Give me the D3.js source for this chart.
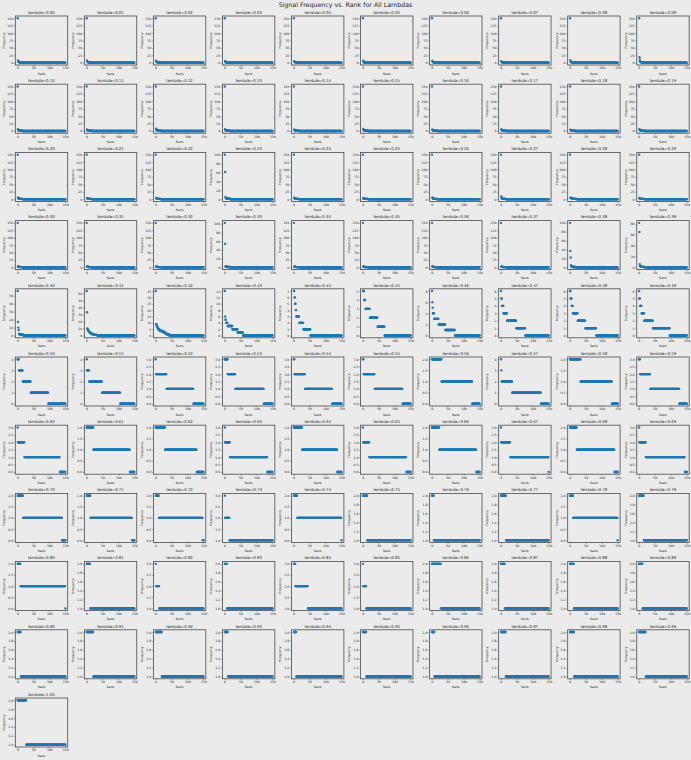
<!DOCTYPE html>
<html><head><meta charset="utf-8">
<script src="https://cdn.jsdelivr.net/npm/d3@7"></script>
<style>
body{margin:0;background:#ebebeb}
text{font-family:"DejaVu Sans",sans-serif}
</style>
</head><body>
<svg id="chart" width="691" height="760"></svg>
<script>
// ---- data ----
const chartTitle = "Signal Frequency vs. Rank for All Lambdas";
const lambdas = ("0.00 0.01 0.02 0.03 0.04 0.05 0.06 0.07 0.08 0.09 " +
  "0.10 0.11 0.12 0.13 0.14 0.15 0.16 0.17 0.18 0.19 " +
  "0.20 0.21 0.22 0.23 0.24 0.25 0.26 0.27 0.28 0.29 " +
  "0.30 0.31 0.32 0.33 0.34 0.35 0.36 0.37 0.38 0.39 " +
  "0.40 0.41 0.42 0.43 0.44 0.45 0.46 0.47 0.48 0.49 " +
  "0.50 0.51 0.52 0.53 0.54 0.55 0.56 0.57 0.58 0.59 " +
  "0.60 0.61 0.62 0.63 0.64 0.65 0.66 0.67 0.68 0.69 " +
  "0.70 0.71 0.72 0.73 0.74 0.75 0.76 0.77 0.78 0.79 " +
  "0.80 0.81 0.82 0.83 0.84 0.85 0.86 0.87 0.88 0.89 " +
  "0.90 0.91 0.92 0.93 0.94 0.95 0.96 0.97 0.98 0.99 1.00").split(" ");

// frequency by rank, written as "value*count" runs (rank 1 .. 150)
const freqRuns = [
  "150,8,5,3*2,2*3,1*10,0*132", "150,8,4,3,2*3,1*10,0*133", "150,7,4*2,2*3,1*10,0*133",
  "150,6,4,2*3,1*10,0*134", "150,5,3*2,2*3,1*10,0*133", "150,7,3,2*3,1*10,0*134",
  "150,6,4,3,2*3,1*10,0*133", "150,5,3,2*3,1*10,0*134", "150,9,4,3,2*3,1*10,0*133",
  "150,19,10,5,3*2,2*3,1*10,0*131",
  "150,6,4,2*3,1*10,0*134", "150,5,3,2*3,1*10,0*134", "150,8,4,2*3,1*10,0*134",
  "150,6,3,2*3,1*10,0*134", "150,5,3,2*3,1*10,0*134", "150,7,4,2*3,1*10,0*134",
  "150,5,3,2*3,1*10,0*134", "150,6,3,2*3,1*10,0*134", "150,4,3,2*3,1*10,0*134",
  "150,6,4,2*3,1*10,0*134",
  "150,6,3,2*3,1*10,0*134", "150,4,2*4,1*10,0*134", "150,4,3,2*3,1*10,0*134",
  "100,61,5,3,2*3,1*10,0*133", "150,5,3,2*3,1*10,0*134", "150,3,2*4,1*10,0*134",
  "150,6,4,2*3,1*10,0*134", "150,9,4,2*3,1*10,0*134", "150,5,4*3,3*3,2*3,1*10,0*129",
  "150,4,3,2*3,1*10,0*134",
  "150,3,2*4,1*10,0*134", "150,3*2,2*3,1*10,0*134", "150,3,2*4,1*10,0*134",
  "102,54,2*4,1*10,0*134", "150,2*5,1*10,0*134", "150,3,2*4,1*10,0*134",
  "150,4,2*4,1*10,0*134", "150,3,2*4,1*10,0*134", "100,37,22,5,3,2*3,1*10,0*132",
  "82,65,6,3,2*3,1*10,0*133",
  "56,17,10,7,2*4,1*10,0*132", "63,33,10,9,8,7,6*2,5*2,4*3,3*4,2*6,1*10,0*117",
  "35,9*2,8,7*2,6*2,5*4,4*7,3*8,2*7,1*8,0*108", "14,6,5*2,4*5,3*15,2*16,1*17,0*93",
  "7*2,6*2,5*2,4*2,3*9,2*13,1*22,0*98", "5*4,4*4,3*14,2*24,1*22,0*82",
  "8,6,5,4*4,3*14,2*21,1*30,0*78", "6,5*2,4*5,3*11,2*29,1*28,0*74",
  "6*2,5*3,4*4,3*15,2*24,1*34,0*68", "6,5*2,4*5,3*8,2*27,1*53,0*54",
  "4*4,3*12,2*25,1*55,0*54", "4,3*7,2*40,1*57,0*45", "3,2*33,1*84,0*32",
  "3*9,2*24,1*89,0*28", "3*2,2*33,1*85,0*30", "3*2,2*35,1*87,0*26",
  "2*30,1*96,0*24", "4,3,2*33,1*90,0*25", "2*33,1*98,0*19", "3*3,2*32,1*91,0*24",
  "3,2*20,1*111,0*18", "2*21,1*114,0*15", "2*29,1*99,0*22", "3,2*15,1*117,0*17",
  "2*26,1*110,0*14", "3,2*19,1*116,0*14", "2*23,1*116,0*11", "3,2*28,1*120,0",
  "2*21,1*118,0*11", "3,2*20,1*122,0*7",
  "2*17,1*122,0*11", "2*12,1*130,0*8", "2*10,1*137,0*3", "3,2*14,1*135",
  "2*11,1*138,0", "2*14,1*136", "2*6,1*144", "2*16,1*134", "2*10,1*139,0", "2*15,1*135",
  "2*9,1*140,0", "2*11,1*139", "3,2*10,1*139", "2*7,1*143", "3*5,2*39,1*106",
  "3,2*10,1*139", "2*28,1*122", "2*12,1*138", "2*12,1*138", "2*11,1*139",
  "2*10,1*140", "2*21,1*129", "2*19,1*131", "2*10,1*140", "2*8,1*142",
  "2*11,1*139", "2*8,1*142", "2*15,1*135", "2*13,1*137", "2*21,1*129",
  "2*27,1*123"
];
const rankTicks = [0, 50, 100, 150];

// ---- layout ----
const W = 691, H = 760;
const left0 = 15.3, colStep = 69.05, top0 = 16, rowStep = 68.2;
const aw = 52.4, ah = 49;
const bg = "#ebebeb", spine = "#4a4a4a", dot = "#1f77b4", ink = "#262626";

function expand(s) {
  const out = [];
  s.split(",").forEach(tok => {
    const [v, c] = tok.split("*");
    const n = c === undefined ? 1 : +c;
    for (let k = 0; k < n; k++) out.push(+v);
  });
  return out.map((v, i) => ({rank: i + 1, freq: v}));
}

function locate(lo, hi, nbins) {
  const raw = (hi - lo) / nbins;
  const mag = Math.pow(10, Math.floor(Math.log10(raw)));
  const step = [1, 2, 2.5, 5, 10].map(s => s * mag).find(s => s >= raw - 1e-12);
  const t = [];
  for (let v = Math.ceil(lo / step - 1e-9) * step; v <= hi + 1e-9; v += step) t.push(+v.toFixed(10));
  const dec = (String(+step.toFixed(10)).split(".")[1] || "").length;
  return {t, fmt: v => v.toFixed(dec)};
}

const svg = d3.select("#chart");
svg.append("rect").attr("width", W).attr("height", H).attr("fill", bg);

svg.append("text").attr("x", W / 2).attr("y", 7.2).attr("text-anchor", "middle")
  .attr("font-size", 6.3).attr("fill", ink).text(chartTitle);

lambdas.forEach((lam, i) => {
  const data = expand(freqRuns[i]);
  const row = Math.floor(i / 10), col = i % 10;
  const g = svg.append("g").attr("transform", `translate(${left0 + col * colStep},${top0 + row * rowStep})`);

  const xExt = d3.extent(data, d => d.rank), yExt = d3.extent(data, d => d.freq);
  const xm = (xExt[1] - xExt[0]) * 0.05, ym = (yExt[1] - yExt[0]) * 0.05;
  const x = d3.scaleLinear().domain([xExt[0] - xm, xExt[1] + xm]).range([0, aw]);
  const y = d3.scaleLinear().domain([yExt[0] - ym, yExt[1] + ym]).range([ah, 0]);
  const yl = locate(yExt[0] - ym, yExt[1] + ym, 8);

  g.append("rect").attr("width", aw).attr("height", ah).attr("fill", bg);

  g.append("g").selectAll("circle").data(data).join("circle")
    .attr("cx", d => x(d.rank)).attr("cy", d => y(d.freq)).attr("r", 1.2).attr("fill", dot);

  const xa = g.append("g").attr("transform", `translate(0,${ah})`)
    .call(d3.axisBottom(x).tickValues(rankTicks).tickFormat(d3.format("d")).tickSize(1.3).tickPadding(0.9));
  const ya = g.append("g")
    .call(d3.axisLeft(y).tickValues(yl.t).tickFormat(yl.fmt).tickSize(1.3).tickPadding(0.9));
  [xa, ya].forEach(a => {
    a.select(".domain").remove();
    a.selectAll("line").attr("stroke", spine).attr("stroke-width", 0.45);
    a.selectAll("text").attr("font-size", 3.1).attr("fill", ink).attr("font-family", "DejaVu Sans");
  });

  g.append("rect").attr("width", aw).attr("height", ah).attr("fill", "none")
    .attr("stroke", spine).attr("stroke-width", 0.8);

  g.append("text").attr("x", aw / 2).attr("y", -2.3).attr("text-anchor", "middle")
    .attr("font-size", 3.9).attr("fill", ink).text("lambda=" + lam);
  g.append("text").attr("x", aw / 2).attr("y", ah + 9.6).attr("text-anchor", "middle")
    .attr("font-size", 3.1).attr("fill", ink).text("Rank");
  g.append("text").attr("transform", `translate(-10.2,${ah / 2}) rotate(-90)`).attr("text-anchor", "middle")
    .attr("font-size", 3.1).attr("fill", ink).text("Frequency");
});
</script>
</body></html>
